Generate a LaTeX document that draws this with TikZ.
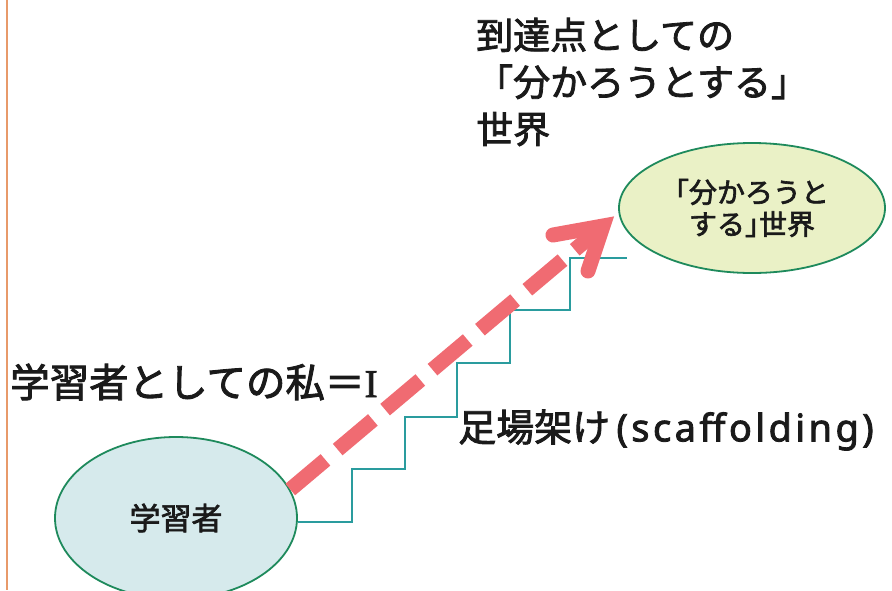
\documentclass[tikz,border=0pt]{standalone}
\usepackage{fontspec}
\setmainfont{Noto Sans CJK JP}[FakeBold=2.2]
\newfontfamily\serifI{Liberation Serif}[FakeBold=2.2]
\newfontfamily\latinsans{Noto Sans}[FakeBold=2.2, LetterSpace=9]
\usetikzlibrary{shapes.geometric}
\definecolor{edgegreen}{HTML}{1E8A5C}
\definecolor{learnerfill}{HTML}{D6EAEC}
\definecolor{worldfill}{HTML}{EAF1C6}
\definecolor{stairteal}{HTML}{2A9C9E}
\definecolor{arrowpink}{HTML}{F06B72}
\definecolor{sideorange}{HTML}{E89A6A}
\definecolor{inktext}{HTML}{1A1A1A}
\tikzset{
  bubble/.style={ellipse, draw=edgegreen, line width=1.8pt, inner sep=0pt, align=center, text=inktext},
  stairline/.style={draw=stairteal, line width=1.2pt},
  dasharrow/.style={draw=arrowpink, line width=15pt, dash pattern=on 46pt off 16pt},
  headstroke/.style={draw=arrowpink, line width=15pt, line join=miter, line cap=round},
  label/.style={text=inktext, inner sep=0pt, anchor=west, align=left}
}
\begin{document}
\begin{tikzpicture}[x=1pt, y=-1pt]
\useasboundingbox (0,0) rectangle (892,590);
\fill[white] (0,0) rectangle (892,590);
\draw[sideorange, line width=1.5pt] (7,0) -- (7,590);

\node[bubble, fill=learnerfill, minimum width=242pt, minimum height=162pt, font=\fontsize{31}{34}\selectfont] (learner) at (176,518) {学習者};
\node[bubble, fill=worldfill, minimum width=266pt, minimum height=130pt, font=\fontsize{28}{32}\selectfont] (world) at (752,208) {｢分かろうと\\する｣世界};

\coordinate (stairend) at (627,258);
\draw[stairline] (learner.east |- 0,522) -- (352,522) -- (352,469) -- (405,469) -- (405,417) -- (457,417) -- (457,363) -- (510,363) -- (510,310) -- (570,310) -- (570,258) -- (stairend);

\coordinate (headv) at (603,226);
\coordinate (armA) at (553,235);
\coordinate (armB) at (588,271);
\draw[dasharrow] (learner.14) -- (headv);
\draw[headstroke] (armA) -- (headv) -- (armB);

\node[label, font=\fontsize{37}{47}\selectfont] (goal) at (476,82) {到達点としての\\「分かろうとする」\\世界};
\node[label, font=\fontsize{39.5}{44}\selectfont] (me) at (10,382) {学習者としての私＝{\serifI I}};
\node[label, font=\fontsize{38}{44}\selectfont] (scaf) at (458,430) {足場架け\,{\latinsans(scaffolding)}};
\end{tikzpicture}
\end{document}
